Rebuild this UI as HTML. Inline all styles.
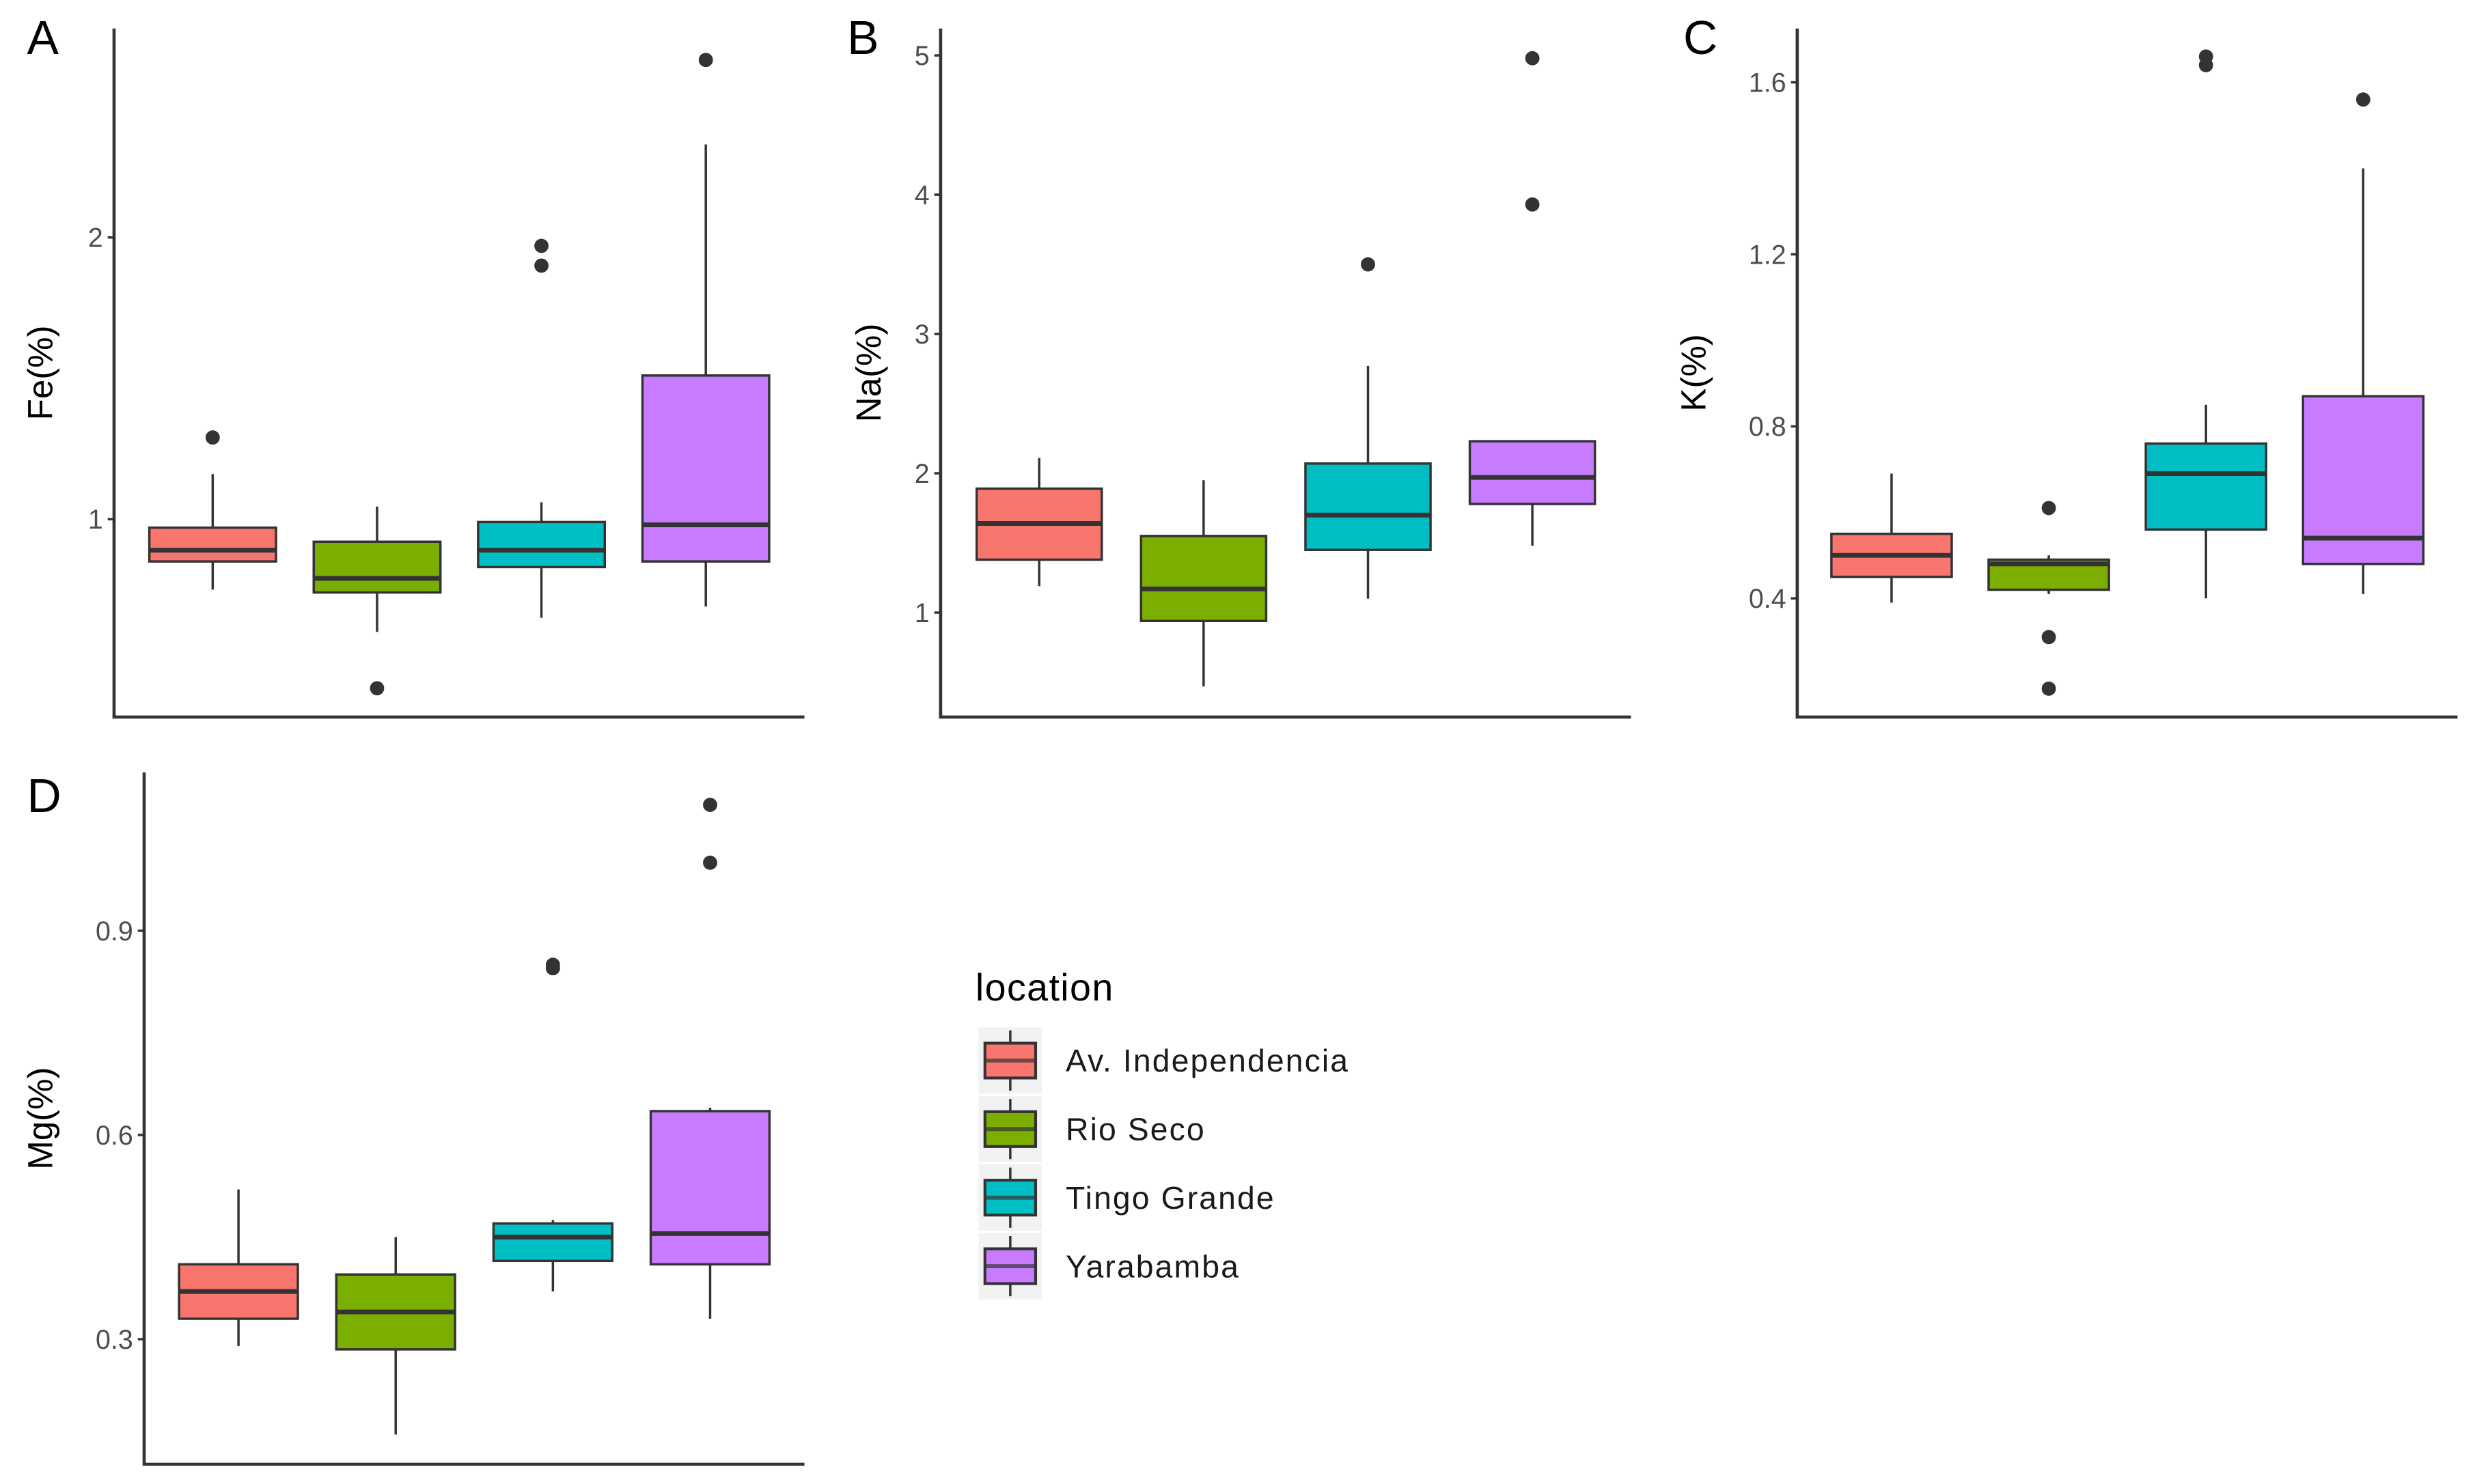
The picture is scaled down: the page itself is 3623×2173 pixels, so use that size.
<!DOCTYPE html>
<html><head><meta charset="utf-8"><style>
html,body{margin:0;padding:0;background:#fff;}
svg{display:block;font-family:"Liberation Sans",Arial,sans-serif;}
</style></head><body>
<svg id="chart" width="3623" height="2173" viewBox="0 0 1563 937.5" xmlns="http://www.w3.org/2000/svg"></svg>
<script>
const categories = ["Av. Independencia","Rio Seco","Tingo Grande","Yarabamba"];
const colors = ["#F8766D","#7CAE00","#00BFC4","#C77CFF"];
// [lowWhisker, Q1, median, Q3, highWhisker]
const feStats = [[0.75,0.85,0.89,0.97,1.16],[0.60,0.74,0.79,0.92,1.045],[0.65,0.83,0.89,0.99,1.06],[0.69,0.85,0.98,1.51,2.33]];
const feOut = [[1.29],[0.40],[1.97,1.90],[2.63]];
const feTicks = [1,2];
const naStats = [[1.19,1.38,1.64,1.89,2.11],[0.47,0.94,1.17,1.55,1.95],[1.10,1.45,1.70,2.07,2.77],[1.48,1.78,1.97,2.23,2.23]];
const naOut = [[],[],[3.50],[3.93,4.98]];
const naTicks = [1,2,3,4,5];
const kStats = [[0.39,0.45,0.50,0.55,0.69],[0.41,0.42,0.48,0.49,0.50],[0.40,0.56,0.69,0.76,0.85],[0.41,0.48,0.54,0.87,1.40]];
const kOut = [[],[0.61,0.31,0.19],[1.66,1.64],[1.56]];
const kTicks = [0.4,0.8,1.2,1.6];
const mgStats = [[0.29,0.33,0.37,0.41,0.52],[0.16,0.285,0.34,0.395,0.45],[0.37,0.415,0.45,0.47,0.475],[0.33,0.41,0.455,0.635,0.64]];
const mgOut = [[],[],[0.85,0.845],[1.00,1.085]];
const mgTicks = [0.3,0.6,0.9];

const NS="http://www.w3.org/2000/svg";
const svg=document.getElementById('chart');
function mk(tag,attrs,parent){const e=document.createElementNS(NS,tag);for(const k in attrs)e.setAttribute(k,attrs[k]);(parent||svg).appendChild(e);return e;}

function panel(cfg){
  const g=mk('g',{});
  
  
  const y=v=>cfg.y0+(v-cfg.v0)*(cfg.y1-cfg.y0)/(cfg.v1-cfg.v0);
  const lab=mk('text',{x:cfg.lx,y:cfg.ly,'font-size':30,fill:'#000'},g);lab.textContent=cfg.letter;
  
  
  const ya=mk('line',{x1:cfg.ax,y1:cfg.top,x2:cfg.ax,y2:cfg.bottom,stroke:'#333','stroke-width':2},g);
  
  
  const xa=mk('line',{x1:cfg.ax-1,y1:cfg.bottom,x2:cfg.right,y2:cfg.bottom,stroke:'#333','stroke-width':2},g);
  
  
  cfg.ticks.forEach(t=>{
    mk('line',{x1:cfg.ax-4,y1:y(t),x2:cfg.ax,y2:y(t),stroke:'#333','stroke-width':1.5},g);
    const tl=mk('text',{x:cfg.ax-7,y:y(t)+6,'font-size':17,fill:'#4d4d4d','text-anchor':'end'},g);
    tl.textContent=String(t);
    
    
  });
  const ty=(cfg.top+cfg.bottom)/2;
  const tt=mk('text',{x:cfg.tx,y:ty,'font-size':22,fill:'#000','text-anchor':'middle',transform:`rotate(-90 ${cfg.tx} ${ty})`},g);
  tt.textContent=cfg.title;
  
  
  const unit=(cfg.right-cfg.ax)/4.2;
  cfg.stats.forEach((s,i)=>{
    const cx=cfg.ax+unit*(i+0.6), w=cfg.bw;
    const bg=mk('g',{},g);
    
    
    mk('line',{x1:cx,y1:y(s[0]),x2:cx,y2:y(s[1]),stroke:'#333','stroke-width':1.5},bg);
    mk('line',{x1:cx,y1:y(s[3]),x2:cx,y2:y(s[4]),stroke:'#333','stroke-width':1.5},bg);
    mk('rect',{x:cx-w/2,y:y(s[3]),width:w,height:y(s[1])-y(s[3]),fill:colors[i],stroke:'#333','stroke-width':1.5},bg);
    mk('line',{x1:cx-w/2,y1:y(s[2]),x2:cx+w/2,y2:y(s[2]),stroke:'#333','stroke-width':3},bg);
    cfg.out[i].forEach(o=>{
      const c=mk('circle',{cx:cx,cy:y(o),r:4.5,fill:'#333'},bg);
      
      
    });
  });
}

panel({letter:'A',lx:17,ly:34,ax:72,top:18,bottom:453,right:508,v0:1,y0:328,v1:2,y1:150,ticks:feTicks,title:'Fe(%)',tx:33,stats:feStats,out:feOut,bw:80});
panel({letter:'B',lx:535,ly:34,ax:594,top:18,bottom:453,right:1030,v0:1,y0:387,v1:5,y1:35,ticks:naTicks,title:'Na(%)',tx:556,stats:naStats,out:naOut,bw:79});
panel({letter:'C',lx:1063,ly:34,ax:1135,top:18,bottom:453,right:1552,v0:0.4,y0:378,v1:1.6,y1:52,ticks:kTicks,title:'K(%)',tx:1077,stats:kStats,out:kOut,bw:76});
panel({letter:'D',lx:17,ly:513,ax:91,top:488,bottom:925,right:508,v0:0.3,y0:846,v1:0.9,y1:588,ticks:mgTicks,title:'Mg(%)',tx:33,stats:mgStats,out:mgOut,bw:75});

const lg=mk('g',{});


const lt=mk('text',{x:616,y:632,'font-size':24,'letter-spacing':0.6,fill:'#000'},lg);lt.textContent='location';


categories.forEach((c,i)=>{
  const cy=670+i*43.3;
  const e=mk('g',{},lg);
  
  
  mk('rect',{x:618,y:cy-21,width:40,height:42,fill:'#f2f2f2'},e);
  mk('line',{x1:638,y1:cy-19,x2:638,y2:cy+19,stroke:'#333','stroke-width':1.5},e);
  mk('rect',{x:622,y:cy-11,width:32,height:22,fill:colors[i],stroke:'#333','stroke-width':1.8},e);
  mk('line',{x1:622,y1:cy,x2:654,y2:cy,stroke:'#333','stroke-width':2.5,'stroke-opacity':0.7},e);
  const t=mk('text',{x:673,y:cy+7,'font-size':20,'letter-spacing':0.9,fill:'#1a1a1a'},e);t.textContent=c;
});
</script>
</body></html>
